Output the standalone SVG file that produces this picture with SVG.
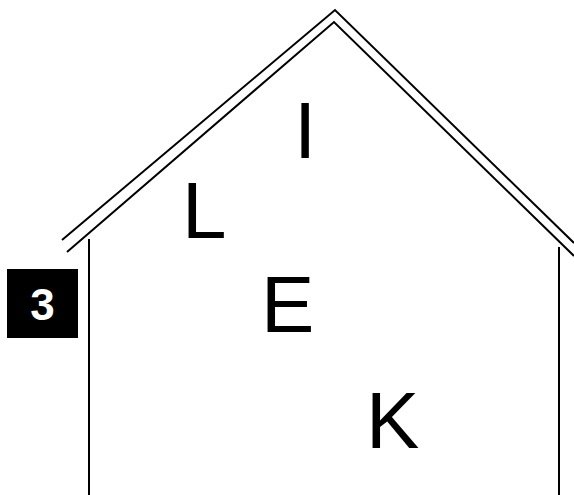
<svg xmlns="http://www.w3.org/2000/svg" width="574" height="495" viewBox="0 0 574 495">
<style>
.ln{fill:none;stroke:#000;stroke-width:2}
.big{font-family:"Liberation Sans",Arial,sans-serif;font-size:80px;fill:#000}
.num{font-family:"Liberation Sans",Arial,sans-serif;font-size:44px;font-weight:bold;fill:#fff}
</style>
<rect width="574" height="495" fill="#fff"/>
<g id="house">
<polyline class="ln" points="62,240 335,10 574,243"/>
<polyline class="ln" points="67,252 334,22 574,256"/>
<line class="ln" x1="89" y1="239" x2="89" y2="495"/>
<line class="ln" x1="559" y1="247" x2="559" y2="495"/>
</g>
<g id="letters">
<text class="big" x="294" y="158">I</text>
<text class="big" x="182" y="238">L</text>
<text class="big" x="261" y="332">E</text>
<text class="big" x="366" y="448">K</text>
</g>
<g id="badge">
<rect x="7" y="269" width="71" height="69" fill="#000"/>
<text class="num" x="42.5" y="320" text-anchor="middle">3</text>
</g>
</svg>
